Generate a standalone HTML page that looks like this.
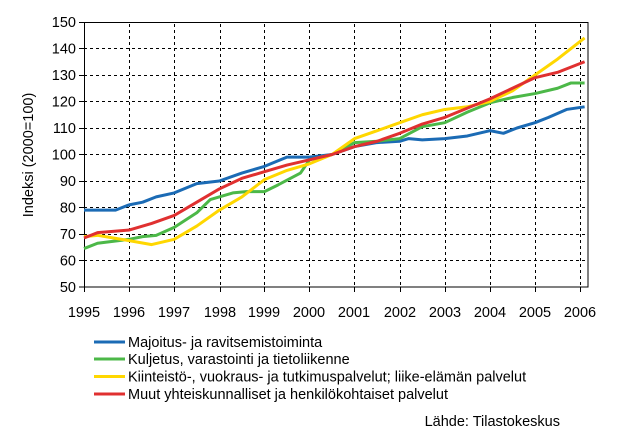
<!DOCTYPE html>
<html><head><meta charset="utf-8"><style>
body{margin:0;background:#fff;}
svg text{font-family:"Liberation Sans",Arial,sans-serif;font-size:14.5px;fill:#000;}
</style></head><body>
<svg width="637" height="441" viewBox="0 0 637 441" xmlns="http://www.w3.org/2000/svg">
<defs>
<pattern id="ph" x="0" y="0" width="6" height="1" patternUnits="userSpaceOnUse"><rect x="0" y="0" width="3" height="1" fill="#000"/></pattern>
<pattern id="pv" x="0" y="0" width="1" height="6" patternUnits="userSpaceOnUse"><rect x="0" y="0" width="1" height="3" fill="#000"/></pattern>
</defs>
<g fill="url(#ph)">
<rect x="84" y="48" width="504" height="1"/><rect x="84" y="75" width="504" height="1"/><rect x="84" y="101" width="504" height="1"/><rect x="84" y="128" width="504" height="1"/><rect x="84" y="154" width="504" height="1"/><rect x="84" y="181" width="504" height="1"/><rect x="84" y="207" width="504" height="1"/><rect x="84" y="234" width="504" height="1"/><rect x="84" y="260" width="504" height="1"/>
</g>
<g fill="url(#pv)">
<rect x="129" y="22" width="1" height="265"/><rect x="174" y="22" width="1" height="265"/><rect x="220" y="22" width="1" height="265"/><rect x="264" y="22" width="1" height="265"/><rect x="309" y="22" width="1" height="265"/><rect x="354" y="22" width="1" height="265"/><rect x="400" y="22" width="1" height="265"/><rect x="445" y="22" width="1" height="265"/><rect x="490" y="22" width="1" height="265"/><rect x="535" y="22" width="1" height="265"/><rect x="580" y="22" width="1" height="265"/>
</g>
<rect x="84.5" y="22.5" width="503.5" height="264.5" fill="none" stroke="#000" stroke-width="1"/>
<path stroke="#000" stroke-width="1" fill="none" d="M79 22.5H84M79 48.5H84M79 75.5H84M79 101.5H84M79 128.5H84M79 154.5H84M79 181.5H84M79 207.5H84M79 234.5H84M79 260.5H84M79 287H84M84.5 287V292M129.5 287V292M174.5 287V292M220.5 287V292M264.5 287V292M309.5 287V292M354.5 287V292M400.5 287V292M445.5 287V292M490.5 287V292M535.5 287V292M580.5 287V292"/>
<g text-anchor="end">
<text x="76" y="27">150</text><text x="76" y="53.5">140</text><text x="76" y="80">130</text><text x="76" y="106.5">120</text><text x="76" y="133">110</text><text x="76" y="159.5">100</text><text x="76" y="186">90</text><text x="76" y="212.5">80</text><text x="76" y="239">70</text><text x="76" y="265.5">60</text><text x="76" y="292">50</text>
</g>
<text transform="translate(33,155) rotate(-90)" text-anchor="middle">Indeksi (2000=100)</text>
<g text-anchor="middle">
<text x="84" y="317">1995</text><text x="129" y="317">1996</text><text x="174" y="317">1997</text><text x="220" y="317">1998</text><text x="264" y="317">1999</text><text x="309" y="317">2000</text><text x="354" y="317">2001</text><text x="400" y="317">2002</text><text x="445" y="317">2003</text><text x="490" y="317">2004</text><text x="535" y="317">2005</text><text x="580" y="317">2006</text>
</g>
<g fill="none" stroke-width="3" stroke-linejoin="round" transform="translate(84,419.5) scale(45.1,-2.65)">
<polyline vector-effect="non-scaling-stroke" stroke="#1b6bb5" points="0,79 0.7,79 1,81 1.3,82 1.6,84 2,85.5 2.5,89 3,90 3.5,93 4,95.5 4.5,99 5,99 5.5,100 6,103 6.5,104.5 7,105 7.2,106 7.5,105.5 8,106 8.5,107 9,109 9.3,108 9.6,110 10,112 10.3,114 10.7,117 11.1,118"/>
<polyline vector-effect="non-scaling-stroke" stroke="#4cb848" points="0,64.5 0.3,66.5 1,68 1.3,69 1.6,69.5 2,72.5 2.5,78 2.8,83 3.3,85.5 3.6,86 4,86 4.3,88.5 4.8,93 5,98 5.5,100 6,104.5 6.5,105 7,106 7.5,110.5 8,112 8.5,116 9,119.5 9.5,121.5 10,123 10.5,125 10.8,127 11.1,127"/>
<polyline vector-effect="non-scaling-stroke" stroke="#ffd700" points="0,69 0.3,69.5 1,67.5 1.5,66 2,68 2.5,73 3,79 3.5,84 4,90.5 4.5,94 5,96.5 5.5,100 6,106 6.5,109 7,112 7.5,115 8,117 8.5,118 9,120 9.5,124 10,130 10.5,136 11.1,144"/>
<polyline vector-effect="non-scaling-stroke" stroke="#e03030" points="0,68.5 0.3,70.5 1,71.5 1.5,74 2,77 2.5,82 3,87 3.5,91 4,93.5 4.5,96 5,98 5.5,100 6,103 6.5,105 7,108 7.5,111.5 8,114 8.5,117.5 9,121 9.5,125 10,129 10.5,131 11.1,135"/>
</g>
<g stroke-width="3">
<line x1="94" x2="125" y1="342" y2="342" stroke="#1b6bb5"/>
<line x1="94" x2="125" y1="359" y2="359" stroke="#4cb848"/>
<line x1="94" x2="125" y1="376.5" y2="376.5" stroke="#ffd700"/>
<line x1="94" x2="125" y1="394" y2="394" stroke="#e03030"/>
</g>
<text x="128" y="347">Majoitus- ja ravitsemistoiminta</text>
<text x="128" y="364">Kuljetus, varastointi ja tietoliikenne</text>
<text x="128" y="381.5">Kiinteistö-, vuokraus- ja tutkimuspalvelut; liike-elämän palvelut</text>
<text x="128" y="399">Muut yhteiskunnalliset ja henkilökohtaiset palvelut</text>
<text x="560" y="426" text-anchor="end">Lähde: Tilastokeskus</text>
</svg>
</body></html>
